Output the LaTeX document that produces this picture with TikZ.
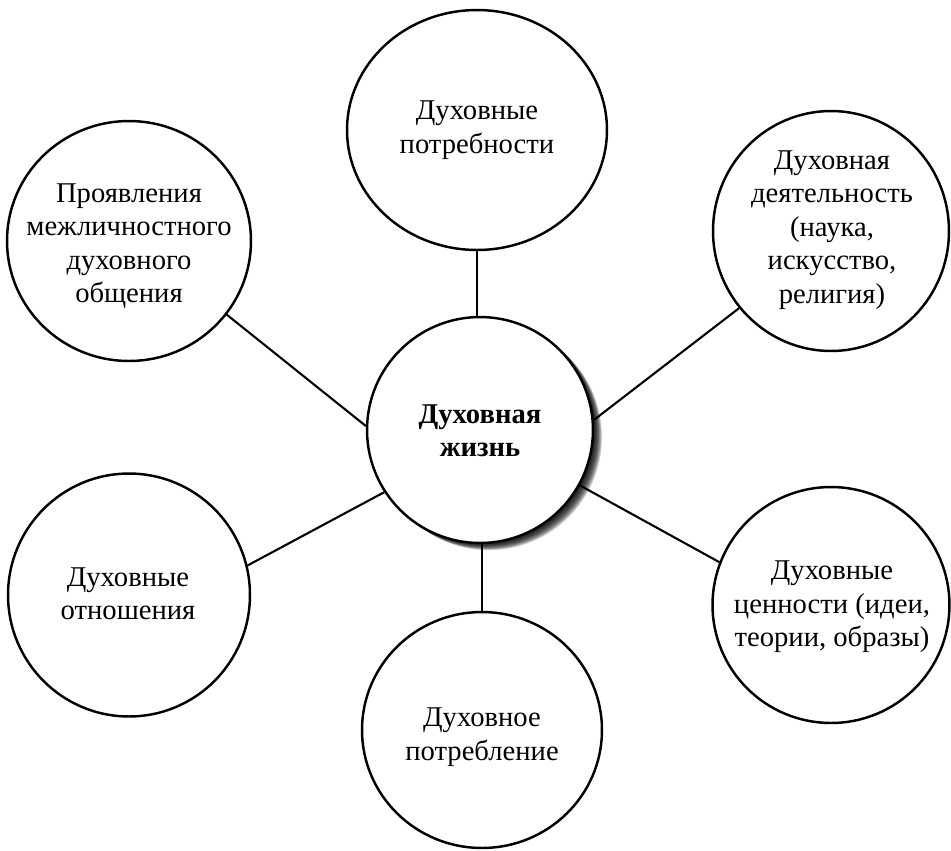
\documentclass[tikz,border=0pt]{standalone}
\usepackage{fontspec}
\setmainfont{Liberation Serif}
\usetikzlibrary{shapes.geometric,calc}
\begin{document}
\begin{tikzpicture}[x=0.02cm,y=-0.02cm,
  bubble/.style={draw,ellipse,inner sep=0pt,line width=1.4pt,fill=white},
  txt/.style={align=center,font=\fontsize{16.3}{19}\selectfont,inner sep=0pt},
  link/.style={line width=1.2pt}]
\useasboundingbox (0,0) rectangle (951,850);
% shadow of the central circle
\foreach \i in {1,...,12}{
  \fill[black,opacity=0.16] (480+\i*0.75,430+\i*0.6) circle[radius=113];
}
% circles
\node[bubble,minimum width=4.52cm,minimum height=4.52cm] (M) at (480,430) {};
\node[bubble,minimum width=5.2cm,minimum height=4.8cm] (T) at (477,130) {};
\node[bubble,minimum width=4.72cm,minimum height=4.8cm] (TR) at (831,231) {};
\node[bubble,minimum width=4.88cm,minimum height=4.8cm] (TL) at (129,241) {};
\node[bubble,minimum width=4.84cm,minimum height=4.86cm] (BL) at (129,595) {};
\node[bubble,minimum width=4.8cm,minimum height=4.72cm] (B) at (482,730) {};
\node[bubble,minimum width=4.74cm,minimum height=4.72cm] (BR) at (831,605) {};
% connectors
\draw[link] (M.north -| T.south) -- (T.south);
\draw[link] (M.5) -- (TR.220);
\draw[link] (M.178) -- (TL.-37);
\draw[link] (M.213) -- (BL.14);
\draw[link] (M.-29) -- (BR.159);
\draw[link] (M.south -| B.north) -- (B.north);
% texts
\node[txt,font=\fontsize{16.3}{19}\selectfont\bfseries] (Mt) at (480,431) {Духовная\\жизнь};
\node[txt] (Tt) at (477,130) {Духовные\\потребности};
\node[txt] (TRt) at (832,230) {Духовная\\деятельность\\(наука,\\искусство,\\религия)};
\node[txt] (TLt) at (129,246) {Проявления\\межличностного\\духовного\\общения};
\node[txt] (BLt) at (128,594) {Духовные\\отношения};
\node[txt] (Bt) at (482,737) {Духовное\\потребление};
\node[txt] (BRt) at (832,607) {Духовные\\ценности (идеи,\\теории, образы)};
\end{tikzpicture}
\end{document}
